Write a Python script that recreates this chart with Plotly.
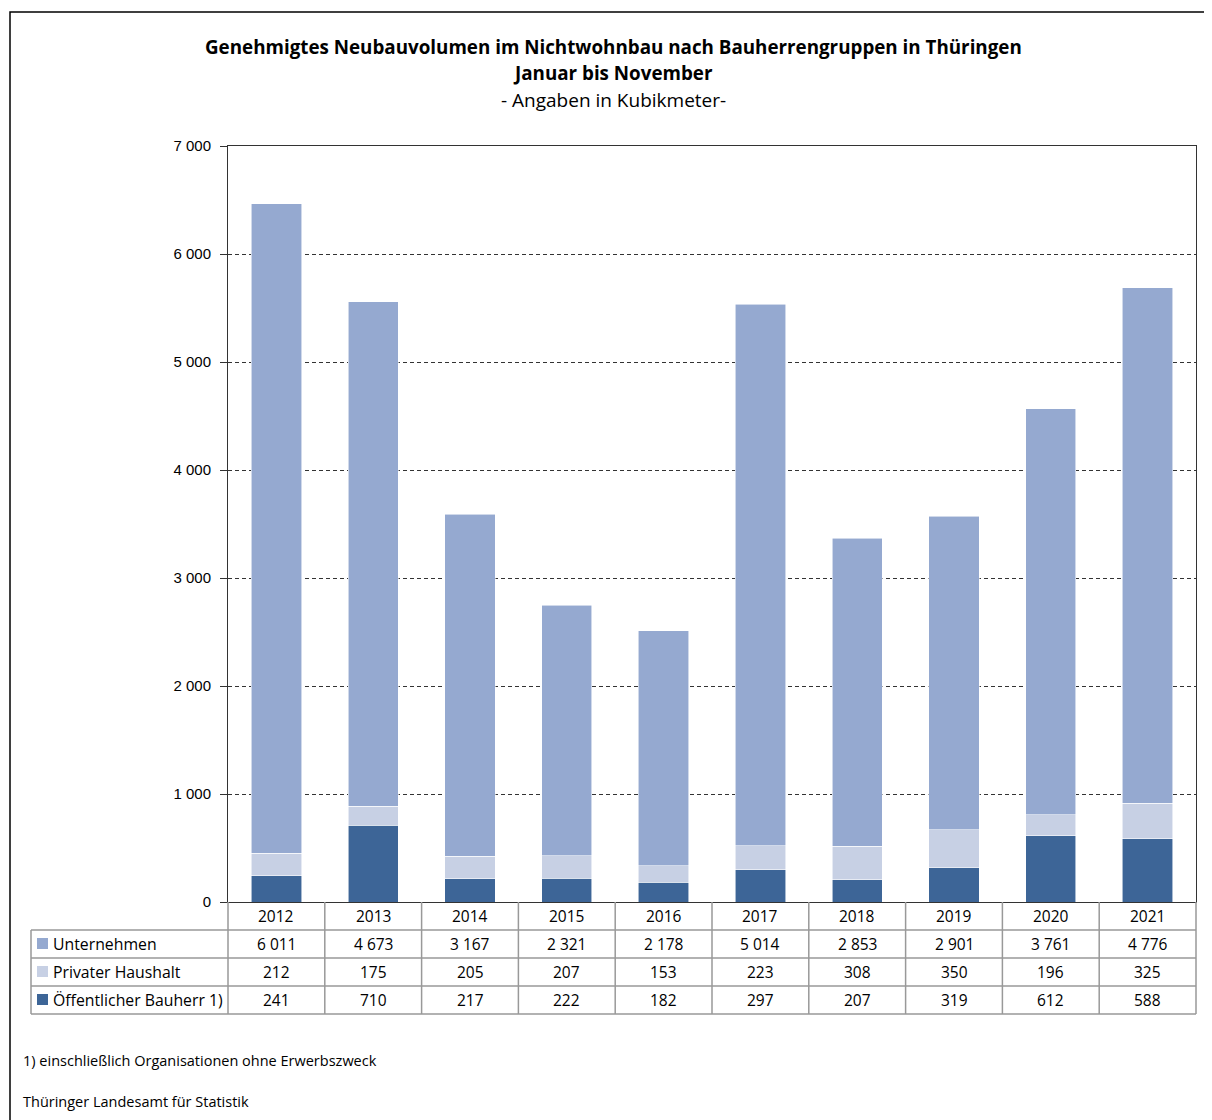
import plotly.graph_objects as go

years = ["2012", "2013", "2014", "2015", "2016", "2017", "2018", "2019", "2020", "2021"]
unternehmen = [6011, 4673, 3167, 2321, 2178, 5014, 2853, 2901, 3761, 4776]
privat = [212, 175, 205, 207, 153, 223, 308, 350, 196, 325]
oeffentlich = [241, 710, 217, 222, 182, 297, 207, 319, 612, 588]

series = [
    ("Öffentlicher Bauherr 1)", oeffentlich, "#3D6597"),
    ("Privater Haushalt", privat, "#C7D0E4"),
    ("Unternehmen", unternehmen, "#95A9D0"),
]

OFF = 8  # page body margin
W, H = 1212 - OFF, 1120 - OFF
L, R, T, B = 228, 1196, 146, 902

def px(x):
    return (x - L) / (R - L)

def py(y):
    return (B - y) / (B - T)

FONT = "Open Sans"
fig = go.Figure()
for name, vals, col in series:
    fig.add_trace(go.Bar(x=list(range(len(years))), y=vals, name=name, marker_color=col,
                         marker_line_width=0.8, marker_line_color="rgba(255,255,255,0.7)",
                         width=0.52, showlegend=False))

fig.update_layout(
    width=W, height=H, barmode="stack", separators=", ",
    margin=dict(l=L - OFF, r=1212 - R, t=T - OFF, b=1120 - B, autoexpand=False),
    paper_bgcolor="white", plot_bgcolor="white",
    font=dict(family=FONT, color="#000"),
)
fig.update_xaxes(range=[-0.5, len(years) - 0.5], showticklabels=False, showgrid=False,
                 showline=True, linecolor="#333", linewidth=1, mirror=True, ticks="", zeroline=False)
fig.update_yaxes(range=[0, 7000], dtick=1000, tickformat=",d", showgrid=True,
                 gridcolor="#333", griddash="4px,3px", gridwidth=1,
                 showline=True, linecolor="#333", linewidth=1, mirror=True,
                 ticks="outside", ticklen=7, tickcolor="#333", zeroline=False,
                 ticklabelstandoff=6,
                 tickfont=dict(family="Liberation Sans", size=15, color="#000"))

shapes = []
annos = []
gc = "#999999"
# outer frame
shapes.append(dict(type="rect", xref="paper", yref="paper", x0=px(10), x1=px(1240), y0=py(1150), y1=py(12),
                   line=dict(color="#000", width=1.5)))
# table lines
row_y = [902, 930, 958, 986, 1014]
for yy in row_y[1:]:
    shapes.append(dict(type="line", xref="paper", yref="paper", x0=px(31), x1=px(R), y0=py(yy), y1=py(yy),
                       line=dict(color=gc, width=1.5)))
shapes.append(dict(type="line", xref="paper", yref="paper", x0=px(31), x1=px(31), y0=py(930), y1=py(1014),
                   line=dict(color=gc, width=1.5)))
for i in range(len(years) + 1):
    xx = L + i * (R - L) / len(years)
    shapes.append(dict(type="line", xref="paper", yref="paper", x0=px(xx), x1=px(xx), y0=py(902), y1=py(1014),
                       line=dict(color=gc, width=1.5)))

def fmt(v):
    return f"{v:,}".replace(",", " ")

def txt(x, y, text, size, xref="paper", xanchor="center"):
    annos.append(dict(x=x, xref=xref, y=py(y), yref="paper", text=text, showarrow=False,
                      xanchor=xanchor, yanchor="middle", font=dict(size=size, family=FONT)))

for i, yr in enumerate(years):
    txt(i, 916, yr, 15.5, xref="x")
rows = [("Unternehmen", unternehmen, "#95A9D0", 944),
        ("Privater Haushalt", privat, "#C7D0E4", 972),
        ("Öffentlicher Bauherr 1)", oeffentlich, "#3D6597", 1000)]
for name, vals, col, yc in rows:
    shapes.append(dict(type="rect", xref="paper", yref="paper", x0=px(37), x1=px(48), y0=py(yc + 5), y1=py(yc - 6),
                       fillcolor=col, line=dict(width=0)))
    txt(px(51), yc, name, 15.8, xanchor="left")
    for i, v in enumerate(vals):
        txt(i, yc, fmt(v), 15.5, xref="x")

# titles
cx = px(613)
txt(cx, 47, "<b>Genehmigtes Neubauvolumen im Nichtwohnbau nach Bauherrengruppen in Thüringen</b>", 18.8)
txt(cx, 73, "<b>Januar bis November</b>", 18.8)
txt(cx, 100, "- Angaben in Kubikmeter-", 19)
txt(px(21), 1060, "1) einschließlich Organisationen ohne Erwerbszweck", 14.5, xanchor="left")
txt(px(21), 1101, "Thüringer Landesamt für Statistik", 14.5, xanchor="left")

fig.update_layout(shapes=shapes, annotations=annos)
fig.write_html("out.html")
